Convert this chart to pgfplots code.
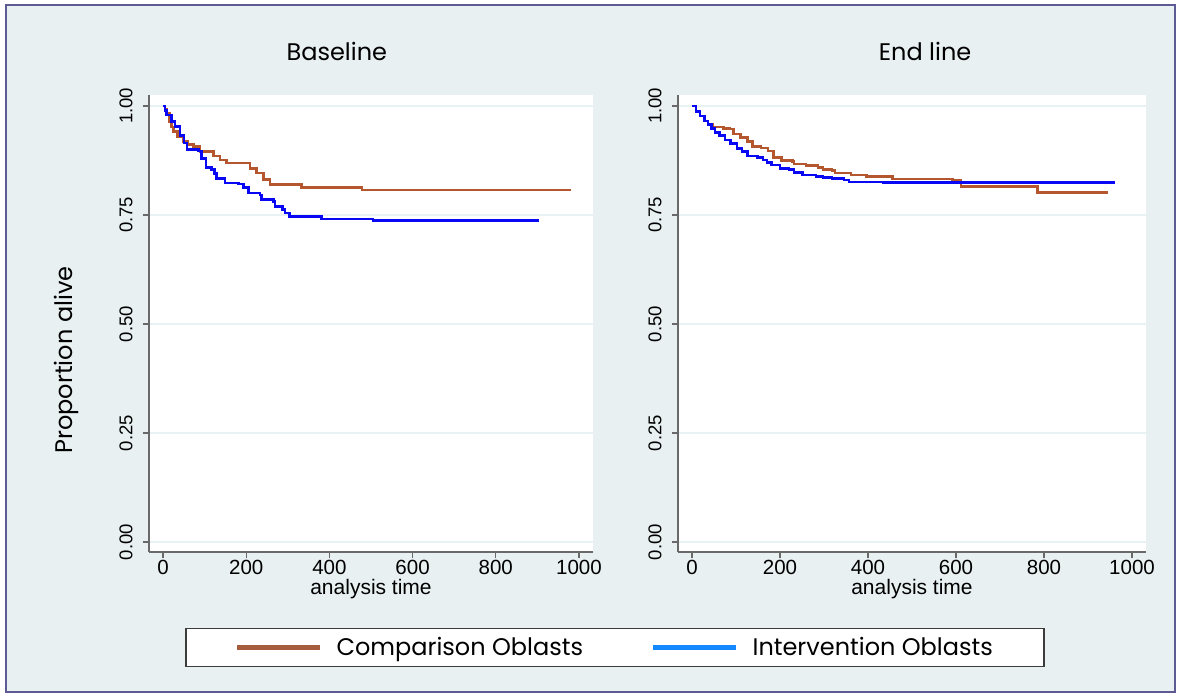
\documentclass[border=0pt]{standalone}
\usepackage{fontspec}
\setmainfont{Poppins}
\newfontfamily\tickfont{Liberation Sans}
\usepackage{pgfplots}
\pgfplotsset{compat=1.18}
\definecolor{bgc}{RGB}{232,240,242}
\definecolor{frm}{RGB}{94,90,148}
\definecolor{cbrown}{RGB}{180,86,46}
\definecolor{cblue}{RGB}{8,8,245}
\definecolor{lbrown}{RGB}{166,91,61}
\definecolor{lblue}{RGB}{20,136,255}
\definecolor{gridc}{RGB}{232,241,243}
\definecolor{axc}{RGB}{105,105,105}
\pgfplotsset{km/.style={
  scale only axis, height=457pt, ymin=-0.0229, ymax=1.0252,
  axis x line*=bottom, axis y line*=left, tick align=outside,
  axis line style={axc, line width=1.4pt},
  major tick style={axc, line width=1.4pt}, major tick length=6pt,
  xtick={0,200,...,1000}, ytick={0,0.25,0.5,0.75,1},
  /pgf/number format/assume math mode=true,
  /pgf/number format/1000 sep={},
  yticklabel={\pgfmathprintnumber[fixed,fixed zerofill,precision=2]{\tick}},
  ymajorgrids, major grid style={gridc, line width=1.5pt},
  axis background/.style={fill=white},
  xticklabel style={font=\tickfont\fontsize{20.5}{20.5}\selectfont, yshift=1pt},
  yticklabel style={font=\tickfont\fontsize{18.5}{18.5}\selectfont, rotate=90, anchor=south, yshift=7pt},
  xlabel={analysis time},
  xlabel style={font=\tickfont\fontsize{21}{21}\selectfont, at={(axis description cs:0.5,0)}, anchor=center, yshift=-37pt},
  title style={font=\fontsize{24}{28}\selectfont, anchor=center, yshift=38pt},
}}
\begin{document}
\begin{tikzpicture}
\fill[white] (0pt,0pt) rectangle (1179pt,697pt);
\filldraw[fill=bgc, draw=frm, line width=2.5pt] (6pt,5pt) rectangle (1175pt,692pt);
\begin{axis}[km, at={(149pt,145pt)}, anchor=south west, width=444pt,
  xmin=-33.7, xmax=1033.7,
  title={Baseline}, title style={at={(axis description cs:0.423,1)}},
  ylabel={Proportion alive},
  ylabel style={font=\fontsize{24}{28}\selectfont, at={(axis description cs:-0.186,0.42)}, anchor=center},
  legend columns=2,
  legend image code/.code={\draw[#1, line width=4.5pt] (0pt,0pt) -- (83pt,0pt);},
  legend style={at={(axis description cs:1.0495,-0.209)}, anchor=center,
    draw={rgb,255:red,60;green,60;blue,60}, line width=1.2pt, fill=white,
    font=\fontsize{24}{28}\selectfont, inner xsep=49pt, inner ysep=7pt,
    /tikz/column 1/.style={column sep=12pt},
    /tikz/column 2/.style={column sep=66pt},
    /tikz/column 3/.style={column sep=12pt}},
]
\addplot[const plot, cbrown, line width=2.6pt, forget plot] coordinates {
(0,1) (5,0.992) (9,0.983) (15,0.965) (20,0.952) (25,0.941) (35,0.930) (49,0.918) (60,0.912) (73,0.907) (89,0.895) (121,0.885) (137,0.876) (153,0.869) (209,0.857) (225,0.846) (241,0.832) (257,0.820) (333,0.813) (478,0.807) (981,0.807)};
\addplot[const plot, cblue, line width=2.6pt, forget plot] coordinates {
(0,1) (5,0.990) (9,0.979) (21,0.964) (29,0.953) (41,0.933) (50,0.915) (58,0.900) (85,0.897) (93,0.880) (103,0.859) (117,0.855) (124,0.845) (129,0.834) (149,0.823) (181,0.821) (193,0.813) (205,0.800) (233,0.796) (237,0.786) (265,0.781) (269,0.769) (287,0.762) (293,0.755) (304,0.746) (381,0.741) (505,0.737) (905,0.737)};
\addlegendimage{lbrown}
\addlegendentry{Comparison Oblasts}
\addlegendimage{lblue}
\addlegendentry{Intervention Oblasts}
\end{axis}
\begin{axis}[km, at={(678pt,145pt)}, anchor=south west, width=468pt,
  xmin=-31.8, xmax=1031.8,
  title={End line}, title style={at={(axis description cs:0.528,1)}},
]
\addplot[const plot, cbrown, line width=2.6pt] coordinates {
(0,1) (9,0.987) (18,0.977) (28,0.966) (36,0.958) (46,0.952) (71,0.949) (85,0.947) (95,0.936) (110,0.928) (126,0.918) (138,0.907) (157,0.904) (173,0.897) (185,0.882) (204,0.875) (228,0.872) (232,0.867) (259,0.863) (286,0.859) (298,0.855) (318,0.852) (325,0.846) (361,0.842) (396,0.838) (455,0.833) (592,0.830) (611,0.815) (785,0.801) (946,0.801)};
\addplot[const plot, cblue, line width=2.6pt] coordinates {
(0,1) (9,0.987) (18,0.977) (28,0.966) (36,0.958) (44,0.949) (52,0.939) (63,0.933) (75,0.922) (87,0.914) (102,0.903) (114,0.895) (126,0.885) (149,0.882) (161,0.876) (170,0.870) (181,0.865) (200,0.857) (220,0.855) (232,0.847) (251,0.842) (282,0.838) (298,0.836) (318,0.834) (345,0.830) (357,0.826) (435,0.825) (600,0.824) (961,0.824)};
\end{axis}
\end{tikzpicture}
\end{document}
